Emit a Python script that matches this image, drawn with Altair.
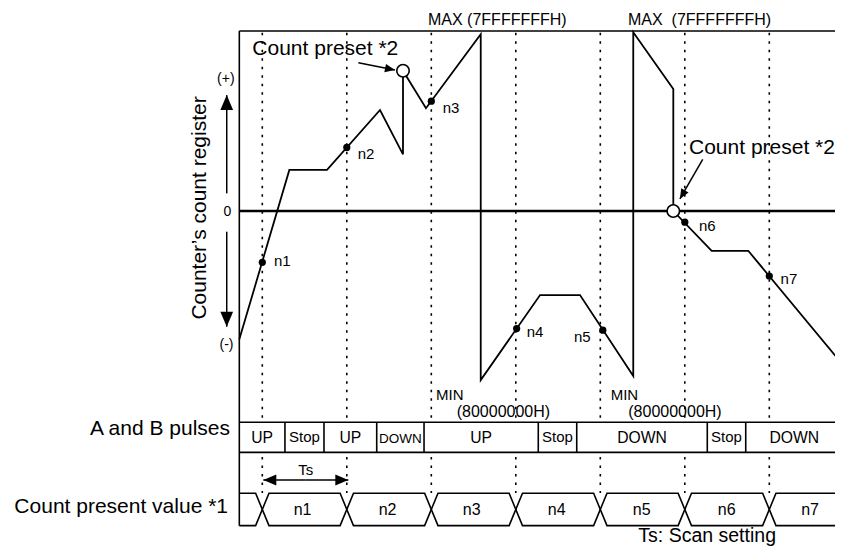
import math
import altair as alt
import pandas as pd

# ---------------- data: time in Ts units (scan instants n1..n7 at t = 1..7),
# ---------------- counter value in % of MAX (MAX = 100, 0 = zero line)
scan_t = [1, 2, 3, 4, 5, 6, 7]
scan_lbl = ["n1", "n2", "n3", "n4", "n5", "n6", "n7"]

# counter's count register waveform (vertices)
wave_t = [0.728, 1.32, 1.766, 2.393, 2.665, 2.665, 2.937, 3.585, 3.585, 4.287,
          4.76, 5.39, 5.39, 5.864, 5.864, 6.318, 6.751, 7.872]
wave_v = [-71.3, 22.8, 22.8, 56.1, 31.5, 77.9, 57.1, 98.2, -93.9, -46.7,
          -46.7, -91.7, 99.3, 67.8, 0.0, -22.1, -22.1, -85.6]

# sampled values n1..n7
sample_t = [1.0, 2.0, 3.0, 4.01, 5.03, 6.0, 7.0]
sample_v = [-28.5, 35.3, 61.0, -65.3, -66.2, -6.2, -36.1]
sample_lbl_t = [1.138, 2.129, 3.135, 4.129, 4.689, 6.168, 7.134]
sample_lbl_v = [-30.6, 28.9, 54.4, -69.8, -72.8, -10.9, -40.6]

# count preset points
preset_t = [2.665, 5.864]
preset_v = [77.9, 0.0]

# A and B pulses row
pulse_edges = [0.728, 1.268, 1.730, 2.354, 2.914, 4.266, 4.721, 6.266, 6.721, 7.872]
pulse_lbl = ["UP", "Stop", "UP", "DOWN", "UP", "Stop", "DOWN", "Stop", "DOWN"]

# count present value row labels
hex_lbl_t = [1.476, 2.482, 3.478, 4.484, 5.490, 6.496, 7.482]

# annotations
ann_text = ["MAX (7FFFFFFFH)", "MAX\u00a0 (7FFFFFFFH)", "Count preset *2", "Count preset *2",
            "MIN", "(80000000H)", "MIN", "(80000000H)",
            "A and B pulses", "Count present value *1", "Ts: Scan setting", "Ts",
            "(+)", "(-)", "0", "Counter\u2019s count register"]
ann_t = [2.961, 5.328, 0.882, 6.050, 3.056, 3.301, 5.123, 5.331,
         0.618, 0.594, 5.450, 1.514, 0.568, 0.576, 0.588, 0.334]
ann_v = [103.1, 103.1, 86.7, 31.7, -105.0, -114.7, -105.0, -114.7,
         -124.4, -167.5, -183.7, -146.7, 71.3, -76.4, -2.8, 1.7]
ann_kind = ["max", "max", "preset", "preset", "min", "minhex", "min", "minhex",
            "row", "row", "note", "ts", "sign", "sign", "zero", "ylabel"]

# arrows: tail (t, v) -> tip (t, v)
arrow_tail_t = [0.579, 0.579, 2.137, 6.212, 1.515, 1.515]
arrow_tail_v = [9.8, -11.5, 82.4, 28.7, -149.4, -149.4]
arrow_tip_t = [0.579, 0.579, 2.570, 5.942, 1.012, 2.018]
arrow_tip_v = [64.4, -64.3, 78.3, 6.67, -149.4, -149.4]
arrow_kind = ["big", "big", "small", "small", "mid", "mid"]

# ---------------- layout / style ----------------
W, H = 827, 538
T0, T1 = -2.0095, 7.7775
V0, V1 = -186.11, 112.78
PX_T = W / (T1 - T0)
PX_V = H / (V1 - V0)
LEFT, RIGHT, TOP = pulse_edges[0], pulse_edges[-1], 100.0
PULSE_TOP, PULSE_BOT = -117.4, -134.1
HEX_TOP, HEX_BOT, HEX_D = -156.8, -174.8, 0.079
FONT = "Liberation Sans"
HEAD = "M-0.85,1L0.85,1L0,-1Z"
HEAD_LEN = {"big": 15, "small": 10, "mid": 13}
STYLE = {"max": (16, "left", 0), "preset": (21, "left", 0), "min": (15, "left", 0),
         "minhex": (16, "left", 0), "row": (21, "right", 0), "note": (19.5, "left", 0),
         "ts": (15, "center", 0), "sign": (14, "center", 0), "zero": (14, "center", 0),
         "ylabel": (21, "center", 270)}

xs = alt.Scale(domain=[T0, T1], nice=False, zero=False)
ys = alt.Scale(domain=[V0, V1], nice=False, zero=False)
X = lambda f="t": alt.X(f"{f}:Q", scale=xs, axis=None)
Y = lambda f="v": alt.Y(f"{f}:Q", scale=ys, axis=None)

# solid segments
segs = [
    (LEFT, TOP, RIGHT, TOP, 1.6),
    (LEFT, TOP, LEFT, HEX_BOT, 1.6),
    (LEFT, 0, RIGHT, 0, 2.6),
    (LEFT, PULSE_TOP, RIGHT, PULSE_TOP, 1.6),
    (LEFT, PULSE_BOT, RIGHT, PULSE_BOT, 1.6),
]
for e in pulse_edges[1:-1]:
    segs.append((e, PULSE_TOP, e, PULSE_BOT, 1.6))
for a, b, c, d in zip(arrow_tail_t, arrow_tail_v, arrow_tip_t, arrow_tip_v):
    segs.append((a, b, c, d, 1.5))
seg_df = pd.DataFrame(segs, columns=["t", "v", "t2", "v2", "w"])

# dotted scan lines
dots = []
for c in scan_t:
    dots.append((c, 99.0, c, -116.0))
    dots.append((c, -136.7, c, -156.7))
dot_df = pd.DataFrame(dots, columns=["t", "v", "t2", "v2"])

# hexagon row as two zig-zag paths
hex_rows = []
for pid, start in enumerate([HEX_TOP, HEX_BOT]):
    lv = start
    pts = [(LEFT, lv)]
    for c in scan_t:
        pts.append((c - HEX_D, lv))
        lv = HEX_BOT if lv == HEX_TOP else HEX_TOP
        pts.append((c + HEX_D, lv))
    pts.append((RIGHT, lv))
    for i, (t, v) in enumerate(pts):
        hex_rows.append({"p": pid, "i": i, "t": t, "v": v})
hex_df = pd.DataFrame(hex_rows)

wave_df = pd.DataFrame({"i": range(len(wave_t)), "t": wave_t, "v": wave_v})
samp_df = pd.DataFrame({"t": sample_t, "v": sample_v})
samp_lbl_df = pd.DataFrame({"t": sample_lbl_t, "v": sample_lbl_v, "text": scan_lbl})
preset_df = pd.DataFrame({"t": preset_t, "v": preset_v})

pl = []
for i, lbl in enumerate(pulse_lbl):
    a, b = pulse_edges[i], pulse_edges[i + 1]
    small = lbl == "DOWN" and (b - a) < 0.6
    pl.append({"t": (a + b) / 2, "v": -129.1 if lbl != "Stop" else -128.1,
               "text": lbl, "s": 13.5 if small else (15 if lbl == "Stop" else 15.7)})
pulse_df = pd.DataFrame(pl)
hexlbl_df = pd.DataFrame({"t": hex_lbl_t, "v": [-168.9] * len(hex_lbl_t), "text": scan_lbl})

# arrow heads
heads = []
for a, b, c, d, k in zip(arrow_tail_t, arrow_tail_v, arrow_tip_t, arrow_tip_v, arrow_kind):
    dx = (c - a) * PX_T
    dy = -(d - b) * PX_V
    n = math.hypot(dx, dy)
    L = HEAD_LEN[k]
    ang = math.degrees(math.atan2(dx, -dy)) % 360
    cx = c - (L / 2) * dx / n / PX_T
    cy = d + (L / 2) * dy / n / PX_V
    heads.append({"t": cx, "v": cy, "a": ang, "s": L * L})
head_df = pd.DataFrame(heads)

ann = []
for txt, t, v, k in zip(ann_text, ann_t, ann_v, ann_kind):
    s, al, an = STYLE[k]
    ann.append({"text": txt, "t": t, "v": v, "s": s, "al": al, "an": an})
ann_df = pd.DataFrame(ann)

layers = []
layers.append(alt.Chart(dot_df).mark_rule(color="black", strokeWidth=1.6, strokeDash=[2.5, 6])
              .encode(x=X(), y=Y(), x2="t2:Q", y2="v2:Q"))
layers.append(alt.Chart(seg_df).mark_rule(color="black")
              .encode(x=X(), y=Y(), x2="t2:Q", y2="v2:Q",
                      strokeWidth=alt.StrokeWidth("w:Q", scale=None)))
layers.append(alt.Chart(hex_df).mark_line(color="black", strokeWidth=1.6)
              .encode(x=X(), y=Y(), detail="p:N", order="i:Q"))
layers.append(alt.Chart(wave_df).mark_line(color="black", strokeWidth=1.8, strokeJoin="miter")
              .encode(x=X(), y=Y(), order="i:Q"))
layers.append(alt.Chart(head_df).mark_point(shape=HEAD, filled=True, color="black", opacity=1, strokeWidth=0)
              .encode(x=X(), y=Y(), angle=alt.Angle("a:Q", scale=None),
                      size=alt.Size("s:Q", scale=None)))
layers.append(alt.Chart(preset_df).mark_point(shape="circle", filled=True, fill="white", stroke="black",
                                               strokeWidth=1.6, size=155, opacity=1)
              .encode(x=X(), y=Y()))
layers.append(alt.Chart(samp_df).mark_circle(color="black", size=52, opacity=1)
              .encode(x=X(), y=Y()))
layers.append(alt.Chart(samp_lbl_df).mark_text(font=FONT, fontSize=15, align="left", baseline="alphabetic", color="black")
              .encode(x=X(), y=Y(), text="text:N"))
layers.append(alt.Chart(pulse_df).mark_text(font=FONT, align="center", baseline="alphabetic", color="black")
              .encode(x=X(), y=Y(), text="text:N", size=alt.Size("s:Q", scale=None)))
layers.append(alt.Chart(hexlbl_df).mark_text(font=FONT, fontSize=16, align="center", baseline="alphabetic", color="black")
              .encode(x=X(), y=Y(), text="text:N"))
for al in ["left", "center", "right"]:
    sub = ann_df[ann_df["al"] == al]
    layers.append(alt.Chart(sub).mark_text(font=FONT, align=al, baseline="alphabetic", color="black")
                  .encode(x=X(), y=Y(), text="text:N",
                          size=alt.Size("s:Q", scale=None),
                          angle=alt.Angle("an:Q", scale=None)))

chart = (alt.layer(*layers)
         .properties(width=W, height=H, padding=0, background="white",
                     autosize=alt.AutoSizeParams(type="none"))
         .configure_view(stroke=None))
chart.save("out.html", embed_options={"renderer": "svg", "actions": False})
